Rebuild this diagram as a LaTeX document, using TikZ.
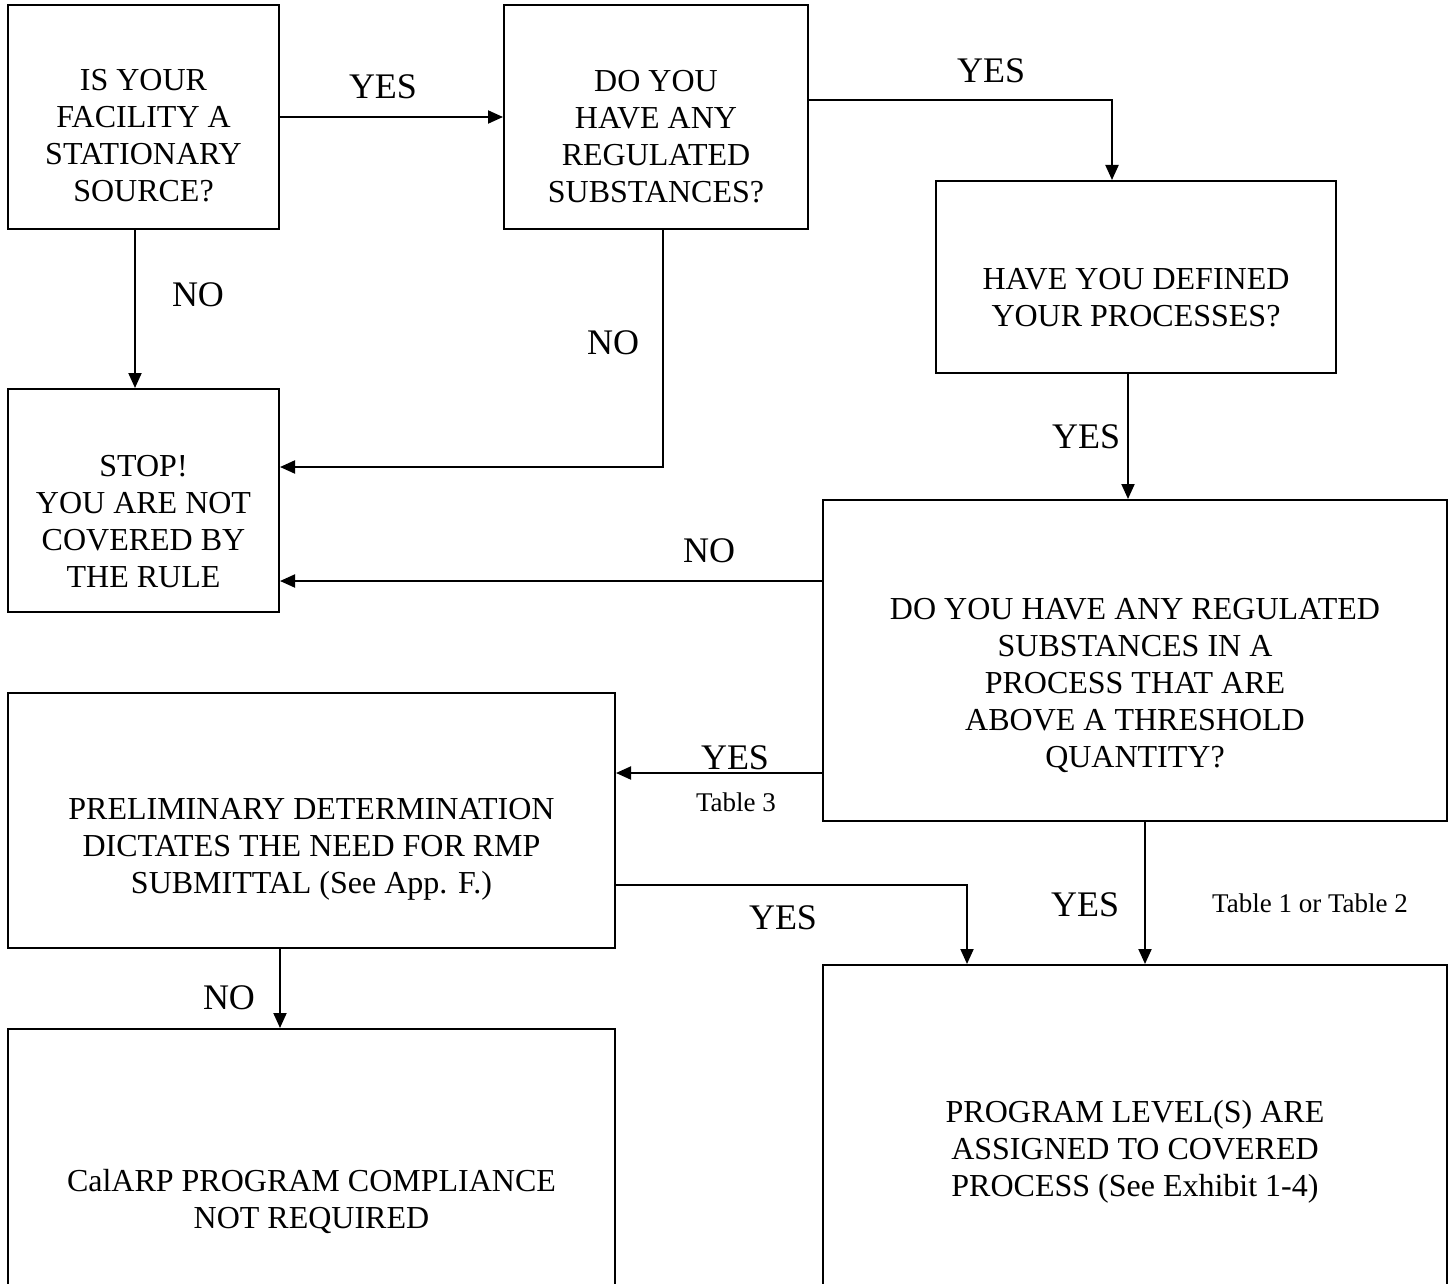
\documentclass[tikz,border=0pt]{standalone}
\usepackage{fontspec}
\setmainfont{Liberation Serif}
\usetikzlibrary{arrows.meta,fit}
\begin{document}
\begin{tikzpicture}[x=0.5pt,y=-0.5pt,
  box/.style={draw,line width=1pt,inner sep=0pt,rectangle},
  txt/.style={align=center,font=\fontsize{16}{18.5}\selectfont,inner sep=0pt},
  lbl/.style={font=\fontsize{18}{21}\selectfont,inner sep=0pt},
  small/.style={font=\fontsize{13.5}{16}\selectfont,inner sep=0pt},
  arr/.style={line width=1pt,-{Triangle[length=7.5pt,width=6.5pt]}}]
\useasboundingbox (0,0) rectangle (1454,1283);
\clip (0,0) rectangle (1454,1283);
\fill[white] (0,0) rectangle (1454,1283);
% helper coordinates
\coordinate (x135) at (135,0);
\coordinate (x280) at (280,0);
\coordinate (x663) at (663,0);
\coordinate (x967) at (967,0);
\coordinate (x1112) at (1112,0);
\coordinate (x1128) at (1128,0);
\coordinate (x1145) at (1145,0);
\coordinate (y100) at (0,100);
\coordinate (y467) at (0,467);
\coordinate (y581) at (0,581);
\coordinate (y773) at (0,773);
\coordinate (y885) at (0,885);
% boxes
\node[box,fit={(8,5)(279,229)}] (A) {};
\node[box,fit={(504,5)(808,229)}] (B) {};
\node[box,fit={(936,181)(1336,373)}] (C) {};
\node[box,fit={(8,389)(279,612)}] (D) {};
\node[box,fit={(823,500)(1447,821)}] (E) {};
\node[box,fit={(8,693)(615,948)}] (F) {};
\node[box,fit={(8,1029)(615,1300)}] (G) {};
\node[box,fit={(823,965)(1447,1300)}] (H) {};
% box texts
\node[txt] (At) at (143.5,136) {IS YOUR\\FACILITY A\\STATIONARY\\SOURCE?};
\node[txt] (Bt) at (656,137) {DO YOU\\HAVE ANY\\REGULATED\\SUBSTANCES?};
\node[txt] (Ct) at (1136,297.5) {HAVE YOU DEFINED\\YOUR PROCESSES?};
\node[txt] (Dt) at (143.5,522) {STOP!\\YOU ARE NOT\\COVERED BY\\THE RULE};
\node[txt] (Et) at (1135,685.5) {DO YOU HAVE ANY REGULATED\\SUBSTANCES IN A\\PROCESS THAT ARE\\ABOVE A THRESHOLD\\QUANTITY?};
\node[txt] (Ft) at (311.5,849) {PRELIMINARY DETERMINATION\\DICTATES THE NEED FOR RMP\\SUBMITTAL (See App. F.)};
\node[txt] (Gt) at (311.5,1201) {CalARP PROGRAM COMPLIANCE\\NOT REQUIRED};
\node[txt] (Ht) at (1135,1152) {PROGRAM LEVEL(S) ARE\\ASSIGNED TO COVERED\\PROCESS (See Exhibit 1-4)};
% connectors
\draw[arr] (A.east) -- (B.west);
\draw[arr] (B.east |- y100) -| (C.north -| x1112);
\draw[arr] (A.south -| x135) -- (D.north -| x135);
\draw[arr] (B.south -| x663) |- (D.east |- y467);
\draw[arr] (C.south -| x1128) -- (E.north -| x1128);
\draw[arr] (E.west |- y581) -- (D.east |- y581);
\draw[arr] (E.west |- y773) -- (F.east |- y773);
\draw[arr] (F.east |- y885) -| (H.north -| x967);
\draw[arr] (E.south -| x1145) -- (H.north -| x1145);
\draw[arr] (F.south -| x280) -- (G.north -| x280);
% labels
\node[lbl] (l1) at (383,87) {YES};
\node[lbl] (l2) at (991,71) {YES};
\node[lbl] (l3) at (198,295) {NO};
\node[lbl] (l4) at (613,343) {NO};
\node[lbl] (l5) at (1086,437) {YES};
\node[lbl] (l6) at (709,551) {NO};
\node[lbl] (l7) at (735,758) {YES};
\node[small] (s1) at (736,802) {Table 3};
\node[lbl] (l8) at (783,918) {YES};
\node[lbl] (l9) at (1085,905) {YES};
\node[small] (s2) at (1310,903) {Table 1 or Table 2};
\node[lbl] (l10) at (229,998) {NO};
\end{tikzpicture}
\end{document}
